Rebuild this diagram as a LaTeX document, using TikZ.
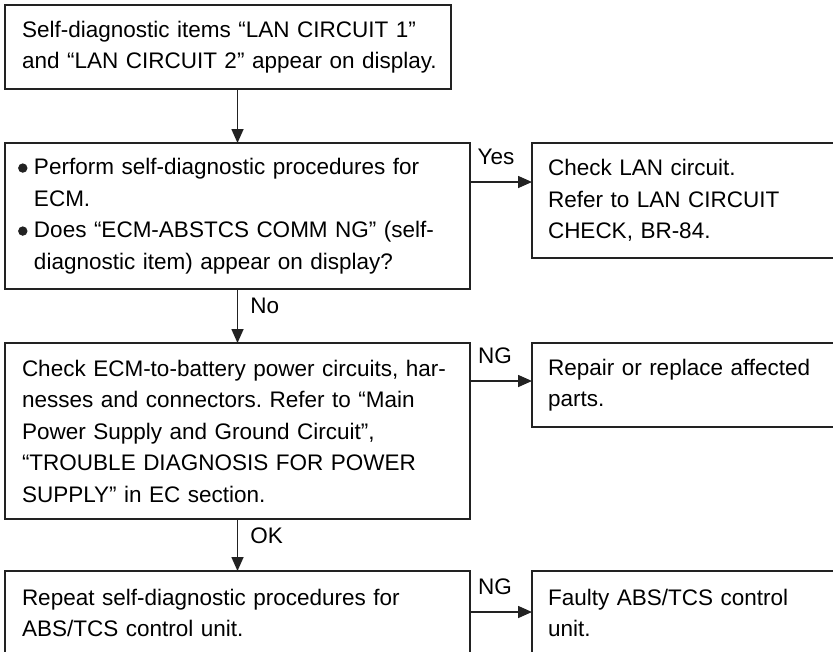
\documentclass[tikz,border=0pt]{standalone}
\usepackage{fontspec}
\setmainfont{Liberation Sans}
\usetikzlibrary{arrows.meta,calc,positioning}
\definecolor{boxline}{RGB}{34,34,34}
\newcommand\dotitem{\leavevmode\llap{\tikz[baseline=0pt]\fill[boxline] (0pt,6.5pt) circle (4.7pt);\hspace{6.5pt}}}

\begin{document}
\begin{tikzpicture}[x=1pt,y=-1pt,
    box/.style={draw=boxline,line width=1.6pt,rectangle,anchor=north west,
      outer sep=0pt,inner xsep=17pt,inner ysep=0pt,align=left,
      font=\fontsize{22.5}{31.5}\selectfont\frenchspacing},
    flow/.style={draw=boxline,line width=1.6pt,-{Triangle[length=14pt,width=12pt]}},
    tag/.style={inner sep=0pt,font=\fontsize{22.5}{27}\selectfont}]
  % frame of the page, the boxes run past it on the right and at the bottom
  \useasboundingbox (0,0) rectangle (833,651);
  \clip (0,0) rectangle (833,651);
  % left column
  \node[box,text width=412pt,minimum height=84pt] (start) at (5,5)
    {\mbox{Self-diagnostic items “LAN CIRCUIT 1”}\\
     \mbox{and “LAN CIRCUIT 2” appear on display.}};
  \node[box,inner xsep=29pt,text width=407pt,minimum height=146pt] (ecm) at (5,143)
    {\dotitem Perform self-diagnostic procedures for\\
     ECM.\\
     \dotitem Does “ECM-ABSTCS COMM NG” (self-\\
     diagnostic item) appear on display?};
  \node[box,text width=431pt,minimum height=176pt] (power) at (5,343)
    {Check ECM-to-battery power circuits, har-\\
     nesses and connectors. Refer to “Main\\
     Power Supply and Ground Circuit”,\\
     “TROUBLE DIAGNOSIS FOR POWER\\
     SUPPLY” in EC section.};
  \node[box,text width=431pt,minimum height=84pt] (repeat) at (5,571)
    {Repeat self-diagnostic procedures for\\ABS/TCS control unit.};
  % right column
  \node[box,inner xsep=16pt,text width=288pt,minimum height=115pt] (lan) at (532,143)
    {Check LAN circuit.\\Refer to LAN CIRCUIT\\CHECK, BR-84.};
  \node[box,inner xsep=16pt,text width=288pt,minimum height=84pt] (repair) at (532,343)
    {Repair or replace affected\\parts.};
  \node[box,inner xsep=16pt,text width=288pt,minimum height=84pt] (faulty) at (532,571)
    {Faulty ABS/TCS control\\unit.};
  % connectors
  \draw[flow] (ecm.north |- start.south) -- (ecm.north);
  \draw[flow] (ecm.south) -- (power.north)
    node[tag,midway,right=12pt,yshift=10pt] {No};
  \draw[flow] (power.south) -- (repeat.north)
    node[tag,midway,right=12pt,yshift=9pt] {OK};
  \draw[flow] ($(ecm.north east)+(0,39)$) -- ($(lan.north west)+(0,39)$)
    node[tag,midway,above=16pt,xshift=-5pt] {Yes};
  \draw[flow] ($(power.north east)+(0,38)$) -- ($(repair.north west)+(0,38)$)
    node[tag,midway,above=16pt,xshift=-6pt] {NG};
  \draw[flow] ($(repeat.north east)+(0,41)$) -- ($(faulty.north west)+(0,41)$)
    node[tag,midway,above=16pt,xshift=-6pt] {NG};
\end{tikzpicture}
\end{document}
